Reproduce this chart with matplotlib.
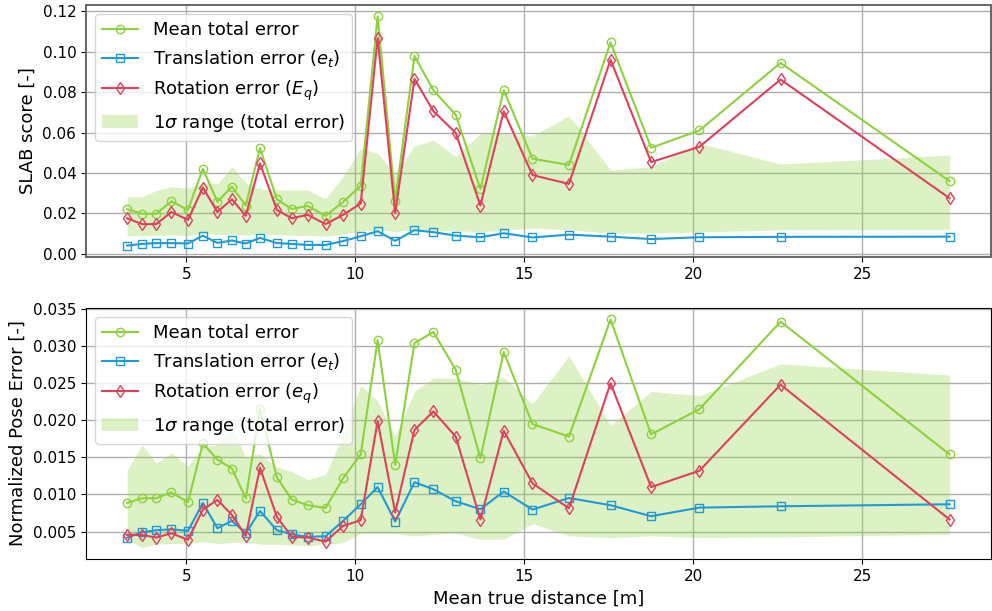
import matplotlib
matplotlib.use("Agg")
import matplotlib.pyplot as plt

# mean true distance per bin [m]
distance = [3.25, 3.69, 4.11, 4.56, 5.05, 5.49, 5.92, 6.35, 6.76, 7.18,
            7.68, 8.12, 8.59, 9.12, 9.64, 10.16, 10.66, 11.18, 11.75, 12.31,
            12.97, 13.70, 14.39, 15.24, 16.32, 17.55, 18.75, 20.18, 22.58, 27.58]

# SLAB score
slab_total = [0.0221, 0.0198, 0.0198, 0.0260, 0.0217, 0.0421, 0.0258, 0.0332, 0.0239, 0.0523,
              0.0270, 0.0222, 0.0237, 0.0188, 0.0257, 0.0336, 0.1175, 0.0263, 0.0979, 0.0810,
              0.0688, 0.0321, 0.0810, 0.0471, 0.0440, 0.1047, 0.0525, 0.0611, 0.0945, 0.0360]
slab_trans = [0.0041, 0.0049, 0.0053, 0.0053, 0.0051, 0.0090, 0.0054, 0.0066, 0.0051, 0.0079,
              0.0053, 0.0049, 0.0044, 0.0044, 0.0063, 0.0087, 0.0112, 0.0064, 0.0117, 0.0107,
              0.0090, 0.0082, 0.0102, 0.0081, 0.0095, 0.0085, 0.0073, 0.0082, 0.0084, 0.0085]
slab_rot = [0.0176, 0.0147, 0.0147, 0.0207, 0.0168, 0.0328, 0.0207, 0.0270, 0.0188, 0.0448,
            0.0217, 0.0176, 0.0193, 0.0147, 0.0193, 0.0249, 0.1068, 0.0201, 0.0866, 0.0706,
            0.0599, 0.0239, 0.0706, 0.0390, 0.0346, 0.0961, 0.0454, 0.0530, 0.0863, 0.0275]
slab_lo = [0.0089, 0.0090, 0.0092, 0.0093, 0.0090, 0.0102, 0.0095, 0.0097, 0.0092, 0.0100,
           0.0094, 0.0092, 0.0090, 0.0088, 0.0098, 0.0114, 0.0119, 0.0110, 0.0119, 0.0116,
           0.0113, 0.0110, 0.0116, 0.0128, 0.0119, 0.0102, 0.0102, 0.0108, 0.0119, 0.0119]
slab_hi = [0.0283, 0.0283, 0.0313, 0.0332, 0.0324, 0.0352, 0.0346, 0.0431, 0.0352, 0.0321,
           0.0316, 0.0316, 0.0316, 0.0272, 0.0382, 0.0522, 0.0497, 0.0398, 0.0533, 0.0563,
           0.0481, 0.0596, 0.0596, 0.0583, 0.0683, 0.0415, 0.0431, 0.0547, 0.0444, 0.0489]

# normalized pose error
pose_total = [0.00886, 0.00949, 0.00949, 0.0103, 0.00895, 0.0169, 0.0147, 0.0135, 0.00949, 0.0215,
              0.0123, 0.00931, 0.00855, 0.00819, 0.0122, 0.0154, 0.0308, 0.0140, 0.0304, 0.0319,
              0.0268, 0.0149, 0.0292, 0.0195, 0.0178, 0.0336, 0.0181, 0.0215, 0.0333, 0.0154]
pose_trans = [0.00419, 0.00491, 0.00518, 0.00531, 0.00509, 0.00886, 0.00545, 0.00644, 0.00478, 0.00778,
              0.00518, 0.00464, 0.00428, 0.00437, 0.00644, 0.00868, 0.0110, 0.00635, 0.01165, 0.0107,
              0.00909, 0.00801, 0.0104, 0.00796, 0.00953, 0.00855, 0.00707, 0.00823, 0.00841, 0.00868]
pose_rot = [0.00455, 0.00455, 0.00419, 0.00478, 0.00388, 0.00796, 0.00927, 0.00725, 0.00442, 0.0136,
            0.00698, 0.00428, 0.00419, 0.00365, 0.00576, 0.00653, 0.0199, 0.00756, 0.0187, 0.0212,
            0.0178, 0.00662, 0.0186, 0.0115, 0.00814, 0.0250, 0.0110, 0.0132, 0.0248, 0.00662]
pose_lo = [0.00397, 0.00284, 0.00329, 0.00338, 0.00338, 0.00365, 0.00338, 0.00352, 0.00365, 0.00329,
           0.00329, 0.00320, 0.00307, 0.00329, 0.00352, 0.00473, 0.00473, 0.00473, 0.00442, 0.00464,
           0.00478, 0.00397, 0.00397, 0.00608, 0.00442, 0.00419, 0.00442, 0.00419, 0.00428, 0.00464]
pose_hi = [0.0132, 0.0167, 0.0142, 0.0156, 0.0138, 0.0164, 0.0167, 0.0191, 0.0150, 0.0155,
           0.0137, 0.0131, 0.0120, 0.0127, 0.0181, 0.0247, 0.0226, 0.0179, 0.0239, 0.0257,
           0.0257, 0.0248, 0.0258, 0.0222, 0.0287, 0.0193, 0.0239, 0.0233, 0.0276, 0.0261]

GREEN = "#8cd23c"
BLUE = "#1f9ad6"
RED = "#e0405c"

plt.rcParams["font.family"] = "DejaVu Sans"
plt.rcParams["xtick.labelsize"] = 11
plt.rcParams["ytick.labelsize"] = 11

fig = plt.figure(figsize=(9.92, 6.11), dpi=100)
ax1 = fig.add_axes([0.0867, 0.5794, 0.912, 0.4124])
ax2 = fig.add_axes([0.0867, 0.0851, 0.912, 0.4108])


def draw_panel(ax, total, trans, rot, lo, hi, rot_label):
    ax.plot(distance, total, color=GREEN, lw=1.5, marker="o", ms=6,
            mfc="none", mew=1.0, label="Mean total error", zorder=3)
    ax.plot(distance, trans, color=BLUE, lw=1.5, marker="s", ms=5.5,
            mfc="none", mew=1.0, label="Translation error ($e_t$)", zorder=3)
    ax.plot(distance, rot, color=RED, lw=1.5, marker="d", ms=6,
            mfc="none", mew=1.0, label=rot_label, zorder=3)
    ax.fill_between(distance, lo, hi, color=GREEN, alpha=0.3, lw=0,
                    label="1$\\sigma$ range (total error)", zorder=2)
    ax.grid(True, color="#b0b0b0", lw=1.0)
    ax.set_axisbelow(True)
    ax.legend(loc="upper left", fontsize=13, framealpha=0.8)


draw_panel(ax1, slab_total, slab_trans, slab_rot, slab_lo, slab_hi, "Rotation error ($E_q$)")
ax1.set_ylabel("SLAB score [-]", fontsize=13)
for s in ax1.spines.values():
    s.set_color("#666666")
    s.set_linewidth(1.4)

draw_panel(ax2, pose_total, pose_trans, pose_rot, pose_lo, pose_hi, "Rotation error ($e_q$)")
ax2.set_ylabel("Normalized Pose Error [-]", fontsize=13)
ax2.set_xlabel("Mean true distance [m]", fontsize=13)

fig.savefig("out.png", dpi=100)
